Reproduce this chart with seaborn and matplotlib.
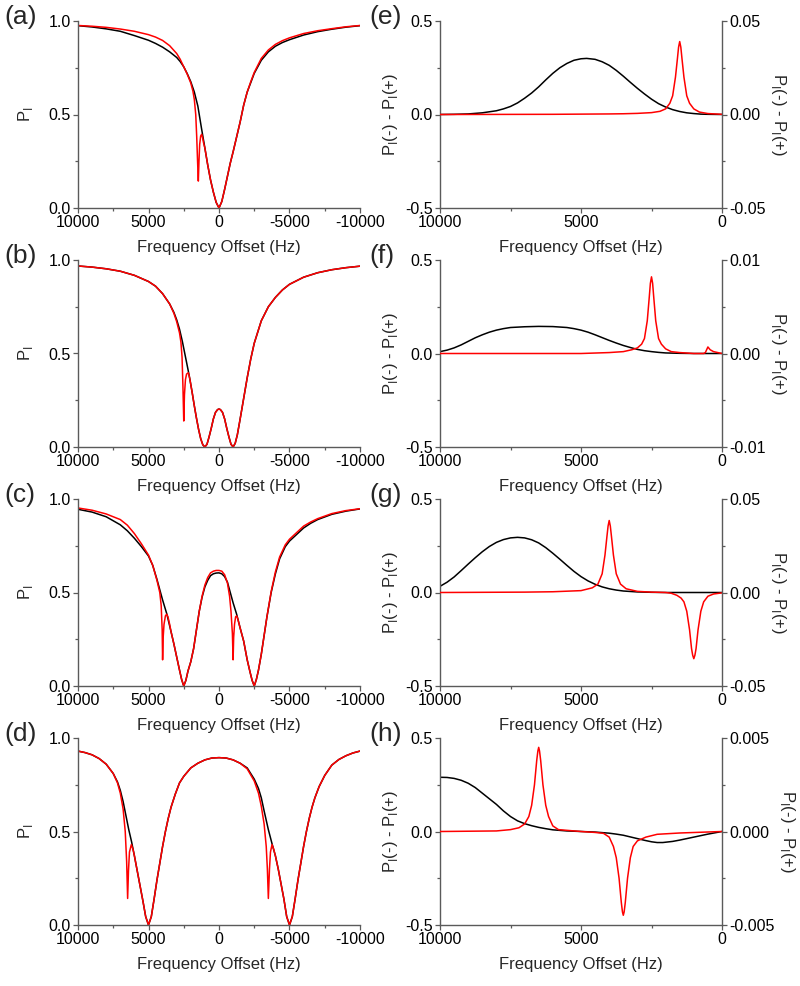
import matplotlib
matplotlib.use('Agg')
import matplotlib.pyplot as plt
import numpy as np
import pandas as pd
import seaborn as sns
from matplotlib.ticker import MultipleLocator

# ---------------- data ----------------
# Left panels: P_I vs frequency offset (Hz); black and red curves
A_black_x = [10000, 9000, 8000, 7000, 6000, 5000, 4500, 4000, 3500, 3000, 2750, 2500, 2250, 2000, 1750, 1500, 1250, 1000, 800, 600, 400, 200, 0, -200, -400, -600, -800, -1000, -1250, -1500, -1750, -2000, -2250, -2500, -3000, -3500, -4000, -4500, -5000, -6000, -7000, -8000, -9000, -10000]
A_black_y = [0.975, 0.968, 0.958, 0.945, 0.922, 0.897, 0.88, 0.86, 0.835, 0.805, 0.783, 0.755, 0.718, 0.675, 0.62, 0.545, 0.43, 0.32, 0.23, 0.15, 0.085, 0.03, 0.0, 0.035, 0.1, 0.17, 0.24, 0.3, 0.38, 0.46, 0.55, 0.62, 0.67, 0.72, 0.79, 0.835, 0.865, 0.885, 0.9, 0.925, 0.943, 0.956, 0.967, 0.975]
A_red_x = [10000, 9000, 8000, 7000, 6000, 5000, 4500, 4000, 3500, 3000, 2750, 2500, 2250, 2000, 1850, 1750, 1650, 1580, 1520, 1466, 1420, 1370, 1300, 1230, 1160, 1100, 1000, 800, 600, 400, 200, 0, -200, -400, -600, -800, -1000, -1250, -1500, -1750, -2000, -2250, -2500, -3000, -3500, -4000, -4500, -5000, -6000, -7000, -8000, -9000, -10000]
A_red_y = [0.976, 0.972, 0.966, 0.957, 0.945, 0.927, 0.914, 0.896, 0.868, 0.826, 0.795, 0.755, 0.715, 0.668, 0.625, 0.58, 0.5, 0.38, 0.25, 0.144, 0.25, 0.34, 0.385, 0.394, 0.375, 0.35, 0.32, 0.23, 0.15, 0.085, 0.03, 0.0, 0.035, 0.1, 0.17, 0.24, 0.3, 0.38, 0.46, 0.55, 0.62, 0.675, 0.725, 0.8, 0.845, 0.875, 0.895, 0.91, 0.933, 0.948, 0.959, 0.969, 0.976]

B_black_x = [10000, 9000, 8000, 7000, 6000, 5000, 4500, 4000, 3500, 3200, 3000, 2800, 2600, 2400, 2200, 2060, 1900, 1750, 1600, 1450, 1300, 1150, 1000, 850, 700, 550, 400, 250, 100, 0, -100, -250, -400, -550, -700, -850, -1000, -1150, -1300, -1500, -1750, -2000, -2250, -2500, -3000, -3500, -4000, -4500, -5000, -6000, -7000, -8000, -9000, -10000]
B_black_y = [0.968, 0.962, 0.953, 0.94, 0.918, 0.885, 0.86, 0.82, 0.765, 0.72, 0.68, 0.63, 0.565, 0.49, 0.415, 0.36, 0.29, 0.22, 0.155, 0.095, 0.045, 0.012, 0.0, 0.015, 0.055, 0.1, 0.15, 0.185, 0.2, 0.203, 0.2, 0.185, 0.15, 0.1, 0.055, 0.015, 0.0, 0.02, 0.065, 0.15, 0.26, 0.37, 0.47, 0.555, 0.675, 0.75, 0.8, 0.84, 0.87, 0.908, 0.932, 0.948, 0.959, 0.967]
B_red_x = [10000, 9000, 8000, 7000, 6000, 5000, 4500, 4000, 3500, 3200, 3000, 2800, 2700, 2620, 2560, 2500, 2450, 2380, 2300, 2175, 2100, 2060, 1900, 1750, 1600, 1450, 1300, 1150, 1000, 850, 700, 550, 400, 250, 100, 0, -100, -250, -400, -550, -700, -850, -1000, -1150, -1300, -1500, -1750, -2000, -2250, -2500, -3000, -3500, -4000, -4500, -5000, -6000, -7000, -8000, -9000, -10000]
B_red_y = [0.968, 0.962, 0.953, 0.94, 0.918, 0.885, 0.86, 0.82, 0.765, 0.715, 0.67, 0.61, 0.56, 0.48, 0.33, 0.139, 0.28, 0.36, 0.39, 0.397, 0.375, 0.36, 0.29, 0.22, 0.155, 0.095, 0.045, 0.012, 0.0, 0.015, 0.055, 0.1, 0.15, 0.185, 0.2, 0.203, 0.2, 0.185, 0.15, 0.1, 0.055, 0.015, 0.0, 0.02, 0.065, 0.15, 0.26, 0.37, 0.47, 0.555, 0.675, 0.75, 0.8, 0.84, 0.87, 0.908, 0.932, 0.948, 0.959, 0.967]

C_black_x = [10000, 9000, 8000, 7000, 6500, 6000, 5500, 5000, 4700, 4400, 4200, 4000, 3700, 3400, 3200, 3000, 2800, 2650, 2500, 2350, 2200, 2000, 1800, 1600, 1400, 1200, 1000, 800, 600, 400, 200, 0, -200, -400, -600, -800, -1000, -1250, -1500, -1750, -2000, -2200, -2350, -2500, -2650, -2800, -3000, -3200, -3400, -3700, -4000, -4300, -4700, -5000, -5500, -6000, -6500, -7000, -8000, -9000, -10000]
C_black_y = [0.945, 0.93, 0.905, 0.862, 0.83, 0.79, 0.745, 0.695, 0.645, 0.57, 0.515, 0.46, 0.385, 0.29, 0.225, 0.155, 0.085, 0.035, 0.0, 0.03, 0.08, 0.13, 0.2, 0.3, 0.4, 0.475, 0.53, 0.565, 0.59, 0.6, 0.604, 0.605, 0.6, 0.585, 0.555, 0.5, 0.445, 0.384, 0.31, 0.24, 0.14, 0.075, 0.03, 0.0, 0.035, 0.085, 0.17, 0.27, 0.37, 0.5, 0.6, 0.68, 0.745, 0.775, 0.81, 0.845, 0.87, 0.89, 0.918, 0.935, 0.947]
C_red_x = [10000, 9000, 8000, 7000, 6500, 6000, 5500, 5000, 4700, 4400, 4200, 4100, 4030, 4000, 3960, 3900, 3800, 3710, 3620, 3500, 3400, 3200, 3000, 2800, 2650, 2500, 2350, 2200, 2000, 1800, 1600, 1400, 1200, 1000, 800, 600, 400, 200, 0, -200, -400, -600, -750, -850, -950, -1000, -1040, -1100, -1180, -1250, -1330, -1500, -1750, -2000, -2200, -2350, -2500, -2650, -2800, -3000, -3200, -3400, -3700, -4000, -4300, -4700, -5000, -5500, -6000, -6500, -7000, -8000, -9000, -10000]
C_red_y = [0.952, 0.94, 0.92, 0.89, 0.86, 0.815, 0.76, 0.7, 0.645, 0.565, 0.5, 0.43, 0.3, 0.14, 0.26, 0.33, 0.375, 0.384, 0.37, 0.33, 0.29, 0.225, 0.155, 0.085, 0.035, 0.0, 0.03, 0.08, 0.13, 0.2, 0.3, 0.4, 0.48, 0.54, 0.58, 0.605, 0.614, 0.618, 0.618, 0.614, 0.595, 0.55, 0.48, 0.4, 0.28, 0.14, 0.26, 0.33, 0.37, 0.375, 0.36, 0.31, 0.24, 0.14, 0.075, 0.03, 0.0, 0.035, 0.085, 0.17, 0.27, 0.37, 0.505, 0.61, 0.69, 0.755, 0.785, 0.82, 0.855, 0.877, 0.895, 0.922, 0.938, 0.948]

D_black_x = [10000, 9500, 9000, 8500, 8000, 7500, 7200, 7000, 6800, 6600, 6400, 6200, 6000, 5800, 5600, 5400, 5200, 5000, 4800, 4600, 4400, 4200, 4000, 3800, 3600, 3400, 3100, 2800, 2500, 2000, 1500, 1000, 500, 0, -500, -1000, -1500, -2000, -2500, -2800, -3000, -3200, -3500, -3760, -4000, -4200, -4400, -4600, -4800, -5000, -5200, -5400, -5600, -5800, -6000, -6200, -6400, -6600, -6800, -7100, -7500, -8000, -8500, -9000, -9500, -10000]
D_black_y = [0.93, 0.922, 0.91, 0.89, 0.86, 0.81, 0.765, 0.72, 0.66, 0.585, 0.51, 0.445, 0.37, 0.29, 0.21, 0.13, 0.045, 0.0, 0.045, 0.14, 0.24, 0.33, 0.42, 0.5, 0.57, 0.63, 0.7, 0.76, 0.795, 0.84, 0.865, 0.883, 0.893, 0.895, 0.893, 0.883, 0.865, 0.84, 0.78, 0.73, 0.68, 0.61, 0.51, 0.435, 0.37, 0.3, 0.22, 0.14, 0.045, 0.0, 0.045, 0.14, 0.24, 0.33, 0.42, 0.5, 0.57, 0.63, 0.68, 0.74, 0.8, 0.855, 0.885, 0.905, 0.92, 0.93]
D_red_x = [10000, 9500, 9000, 8500, 8000, 7500, 7200, 7000, 6800, 6650, 6550, 6480, 6420, 6350, 6217, 6100, 6000, 5800, 5600, 5400, 5200, 5000, 4800, 4600, 4400, 4200, 4000, 3800, 3600, 3400, 3100, 2800, 2500, 2000, 1500, 1000, 500, 0, -500, -1000, -1500, -2000, -2500, -2800, -3000, -3200, -3350, -3430, -3500, -3580, -3650, -3760, -3880, -4000, -4200, -4400, -4600, -4800, -5000, -5200, -5400, -5600, -5800, -6000, -6200, -6400, -6600, -6800, -7100, -7500, -8000, -8500, -9000, -9500, -10000]
D_red_y = [0.93, 0.922, 0.91, 0.89, 0.86, 0.81, 0.76, 0.705, 0.62, 0.5, 0.34, 0.142, 0.29, 0.39, 0.43, 0.405, 0.37, 0.29, 0.21, 0.13, 0.045, 0.0, 0.045, 0.14, 0.24, 0.33, 0.42, 0.5, 0.57, 0.63, 0.7, 0.76, 0.795, 0.84, 0.865, 0.883, 0.893, 0.895, 0.893, 0.883, 0.865, 0.835, 0.77, 0.705, 0.635, 0.54, 0.42, 0.3, 0.142, 0.3, 0.39, 0.43, 0.405, 0.37, 0.3, 0.22, 0.14, 0.045, 0.0, 0.045, 0.14, 0.24, 0.33, 0.42, 0.5, 0.57, 0.63, 0.68, 0.74, 0.8, 0.855, 0.885, 0.905, 0.92, 0.93]

# Right panels: P_I(-) - P_I(+); black on left axis, red on right axis
E_black_x = [10000, 9500, 9000, 8500, 8000, 7750, 7500, 7250, 7000, 6750, 6500, 6250, 6000, 5750, 5500, 5250, 5000, 4800, 4500, 4250, 4000, 3750, 3500, 3250, 3000, 2750, 2500, 2250, 2000, 1750, 1500, 1250, 1000, 750, 500, 0]
E_black_y = [0.0, 0.001, 0.003, 0.009, 0.02, 0.03, 0.043, 0.062, 0.087, 0.115, 0.148, 0.185, 0.22, 0.25, 0.273, 0.29, 0.298, 0.3, 0.295, 0.282, 0.263, 0.236, 0.205, 0.172, 0.14, 0.11, 0.082, 0.058, 0.04, 0.026, 0.016, 0.009, 0.005, 0.002, 0.001, 0.0]
E_red_x = [10000, 6000, 5000, 4000, 3500, 3000, 2500, 2200, 2000, 1850, 1750, 1650, 1580, 1540, 1500, 1460, 1420, 1350, 1250, 1150, 1000, 800, 500, 0]
E_red_y = [0.0, 0.0001, 0.0002, 0.0003, 0.0004, 0.0006, 0.001, 0.0017, 0.003, 0.006, 0.01, 0.02, 0.03, 0.036, 0.039, 0.036, 0.03, 0.02, 0.01, 0.006, 0.003, 0.0013, 0.0005, 0.0001]

F_black_x = [10000, 9750, 9500, 9250, 9000, 8750, 8500, 8250, 8000, 7750, 7500, 7000, 6500, 6000, 5500, 5250, 5000, 4750, 4500, 4250, 4000, 3750, 3500, 3250, 3000, 2750, 2500, 2250, 2000, 1500, 1000, 0]
F_black_y = [0.01, 0.018, 0.03, 0.046, 0.065, 0.084, 0.1, 0.114, 0.125, 0.133, 0.139, 0.143, 0.145, 0.144, 0.139, 0.133, 0.125, 0.114, 0.1, 0.085, 0.07, 0.056, 0.043, 0.032, 0.022, 0.015, 0.01, 0.006, 0.003, 0.001, 0.0, 0.0]
F_red_x = [10000, 5000, 4000, 3500, 3200, 3000, 2850, 2750, 2650, 2580, 2540, 2500, 2460, 2420, 2350, 2250, 2150, 2000, 1800, 1500, 1000, 650, 590, 500, 420, 300, 150, 0]
F_red_y = [0.0, 0.0, 0.0001, 0.0002, 0.0004, 0.0006, 0.001, 0.0016, 0.0035, 0.006, 0.0075, 0.0082, 0.0075, 0.006, 0.0035, 0.0016, 0.001, 0.0005, 0.0002, 0.0001, 0.0, 0.0, 0.0001, 0.0007, 0.0004, 0.0002, 0.0001, 0.0]

G_black_x = [10000, 9750, 9500, 9250, 9000, 8750, 8500, 8250, 8000, 7750, 7500, 7250, 7000, 6750, 6500, 6250, 6000, 5750, 5500, 5250, 5000, 4750, 4500, 4250, 4000, 3750, 3500, 3000, 2500, 2000, 0]
G_black_y = [0.033, 0.055, 0.083, 0.117, 0.152, 0.186, 0.218, 0.246, 0.268, 0.283, 0.292, 0.295, 0.292, 0.282, 0.265, 0.24, 0.21, 0.178, 0.145, 0.113, 0.085, 0.062, 0.044, 0.03, 0.02, 0.013, 0.008, 0.003, 0.001, 0.0, 0.0]
G_red_x = [10000, 7000, 6000, 5000, 4600, 4400, 4250, 4150, 4080, 4040, 4000, 3960, 3920, 3850, 3750, 3600, 3400, 3000, 2500, 2000, 1800, 1600, 1450, 1350, 1250, 1150, 1080, 1040, 1000, 960, 920, 850, 750, 650, 500, 300, 0]
G_red_y = [0.0, 0.0002, 0.0004, 0.001, 0.0025, 0.0045, 0.01, 0.02, 0.03, 0.0355, 0.0385, 0.0355, 0.03, 0.02, 0.01, 0.0045, 0.002, 0.0006, 0.0002, 0.0, -0.0004, -0.0015, -0.003, -0.005, -0.01, -0.02, -0.03, -0.0335, -0.0354, -0.0335, -0.03, -0.02, -0.01, -0.005, -0.002, -0.0008, -0.0002]

H_black_x = [10000, 9750, 9500, 9250, 9000, 8750, 8500, 8250, 8000, 7750, 7500, 7250, 7000, 6750, 6500, 6250, 6000, 5500, 5000, 4500, 4000, 3750, 3500, 3250, 3000, 2750, 2500, 2300, 2100, 1750, 1500, 1250, 1000, 750, 500, 250, 0]
H_black_y = [0.29, 0.289, 0.284, 0.274, 0.258, 0.235, 0.205, 0.175, 0.145, 0.11, 0.08, 0.057, 0.042, 0.031, 0.022, 0.015, 0.009, 0.003, 0.0, -0.003, -0.009, -0.014, -0.02, -0.029, -0.038, -0.047, -0.055, -0.059, -0.059, -0.053, -0.046, -0.038, -0.03, -0.022, -0.014, -0.007, 0.0]
H_red_x = [10000, 8000, 7500, 7200, 7000, 6850, 6750, 6650, 6570, 6530, 6500, 6470, 6430, 6350, 6250, 6150, 6000, 5800, 5000, 4500, 4200, 4000, 3850, 3750, 3650, 3570, 3530, 3500, 3470, 3430, 3350, 3250, 3150, 3000, 2700, 2300, 1500, 0]
H_red_y = [0.0, 0.00003, 0.0001, 0.0002, 0.0004, 0.0008, 0.0014, 0.0025, 0.0038, 0.0043, 0.0045, 0.0043, 0.0038, 0.0025, 0.0014, 0.0008, 0.0003, 0.0001, 0.0, -0.00005, -0.0001, -0.0003, -0.0008, -0.0014, -0.0025, -0.0038, -0.0043, -0.00448, -0.0043, -0.0038, -0.0025, -0.0014, -0.0008, -0.0005, -0.0003, -0.00015, -0.00008, 0.0]

# ticks / labels
LEFT_PANEL_LABELS = ['(a)', '(b)', '(c)', '(d)']
RIGHT_PANEL_LABELS = ['(e)', '(f)', '(g)', '(h)']
LEFT_XTICKS = [10000, 5000, 0, -5000, -10000]
LEFT_XTICKLABELS = ['10000', '5000', '0', '-5000', '-10000']
LEFT_YTICKS = [0.0, 0.5, 1.0]
LEFT_YTICKLABELS = ['0.0', '0.5', '1.0']
RIGHT_XTICKS = [10000, 5000, 0]
RIGHT_XTICKLABELS = ['10000', '5000', '0']
RIGHT_YTICKS = [-0.5, 0.0, 0.5]
RIGHT_YTICKLABELS = ['-0.5', '0.0', '0.5']
TWIN_LIMITS = [0.05, 0.01, 0.05, 0.005]
TWIN_TICKLABELS = [['-0.05', '0.00', '0.05'], ['-0.01', '0.00', '0.01'],
                   ['-0.05', '0.00', '0.05'], ['-0.005', '0.000', '0.005']]
XLABEL = 'Frequency Offset (Hz)'
YLABEL_LEFT = 'P$_\\mathregular{I}$'
YLABEL_RIGHT = 'P$_\\mathregular{I}$(-) - P$_\\mathregular{I}$(+)'

left_data = [(A_black_x, A_black_y, A_red_x, A_red_y),
             (B_black_x, B_black_y, B_red_x, B_red_y),
             (C_black_x, C_black_y, C_red_x, C_red_y),
             (D_black_x, D_black_y, D_red_x, D_red_y)]
right_data = [(E_black_x, E_black_y, E_red_x, E_red_y),
              (F_black_x, F_black_y, F_red_x, F_red_y),
              (G_black_x, G_black_y, G_red_x, G_red_y),
              (H_black_x, H_black_y, H_red_x, H_red_y)]

# ---------------- style ----------------
sns.set_style('ticks')
plt.rcParams['font.family'] = ['Liberation Sans', 'DejaVu Sans']
plt.rcParams['mathtext.fontset'] = 'custom'
plt.rcParams['mathtext.rm'] = 'Liberation Sans'
plt.rcParams['axes.unicode_minus'] = False

W, H = 800, 986
fig = plt.figure(figsize=(W / 100, H / 100), dpi=100)
AX_W, AX_H = 282, 187
LEFT_X0, RIGHT_X0 = 78, 440
ROW_TOPS = [21, 260, 499, 738]
SPINE = '#5a5a5a'
TICK_FS = 11.5
LABEL_FS = 12
LW = 1.1


def rect(x0, top):
    return [x0 / W, 1 - (top + AX_H) / H, AX_W / W, AX_H / H]


def style(ax, sides):
    for s in ['top', 'right', 'left', 'bottom']:
        ax.spines[s].set_visible(s in sides)
        ax.spines[s].set_color(SPINE)
        ax.spines[s].set_linewidth(1.0)
    ax.tick_params(which='both', direction='out', color=SPINE, width=0.9,
                   labelsize=TICK_FS, labelcolor='black', pad=1.5)
    ax.tick_params(which='major', length=3.5)
    ax.tick_params(which='minor', length=2.2)


def line(ax, xs, ys, color):
    df = pd.DataFrame({'x': xs, 'y': ys})
    sns.lineplot(data=df, x='x', y='y', ax=ax, color=color, lw=LW,
                 estimator=None, sort=False, legend=False)


for i in range(4):
    top = ROW_TOPS[i]
    # ---- left panel ----
    ax = fig.add_axes(rect(LEFT_X0, top))
    bx, by, rx, ry = left_data[i]
    line(ax, bx, by, 'black')
    line(ax, rx, ry, '#ff0000')
    ax.set_xlim(10000, -10000)
    ax.set_ylim(0, 1)
    ax.set_xticks(LEFT_XTICKS)
    ax.set_xticklabels(LEFT_XTICKLABELS)
    ax.set_yticks(LEFT_YTICKS)
    ax.set_yticklabels(LEFT_YTICKLABELS)
    ax.xaxis.set_minor_locator(MultipleLocator(2500))
    ax.yaxis.set_minor_locator(MultipleLocator(0.25))
    style(ax, ['left', 'bottom'])
    ax.set_xlabel(XLABEL, fontsize=LABEL_FS, labelpad=7)
    ax.set_ylabel(YLABEL_LEFT, fontsize=LABEL_FS, labelpad=10)
    fig.text(4 / W, 1 - (top - 16) / H, LEFT_PANEL_LABELS[i], fontsize=19,
             va='top', ha='left')

    # ---- right panel ----
    ax = fig.add_axes(rect(RIGHT_X0, top))
    bx, by, rx, ry = right_data[i]
    line(ax, bx, by, 'black')
    ax.set_xlim(10000, 0)
    ax.set_ylim(-0.5, 0.5)
    ax.set_xticks(RIGHT_XTICKS)
    ax.set_xticklabels(RIGHT_XTICKLABELS)
    ax.set_yticks(RIGHT_YTICKS)
    ax.set_yticklabels(RIGHT_YTICKLABELS)
    ax.xaxis.set_minor_locator(MultipleLocator(2500))
    ax.yaxis.set_minor_locator(MultipleLocator(0.25))
    style(ax, ['left', 'bottom'])
    ax.set_xlabel(XLABEL, fontsize=LABEL_FS, labelpad=7)
    ax.set_ylabel(YLABEL_RIGHT, fontsize=LABEL_FS, labelpad=4)

    ax2 = ax.twinx()
    line(ax2, rx, ry, '#ff0000')
    lim = TWIN_LIMITS[i]
    ax2.set_ylim(-lim, lim)
    ax2.set_yticks([-lim, 0, lim])
    ax2.set_yticklabels(TWIN_TICKLABELS[i])
    ax2.yaxis.set_minor_locator(MultipleLocator(lim / 2))
    style(ax2, ['right'])
    ax2.set_ylabel(YLABEL_RIGHT, fontsize=LABEL_FS, rotation=270, labelpad=16)
    fig.text(369 / W, 1 - (top - 16) / H, RIGHT_PANEL_LABELS[i], fontsize=19,
             va='top', ha='left')

fig.savefig('out.png', dpi=100)
